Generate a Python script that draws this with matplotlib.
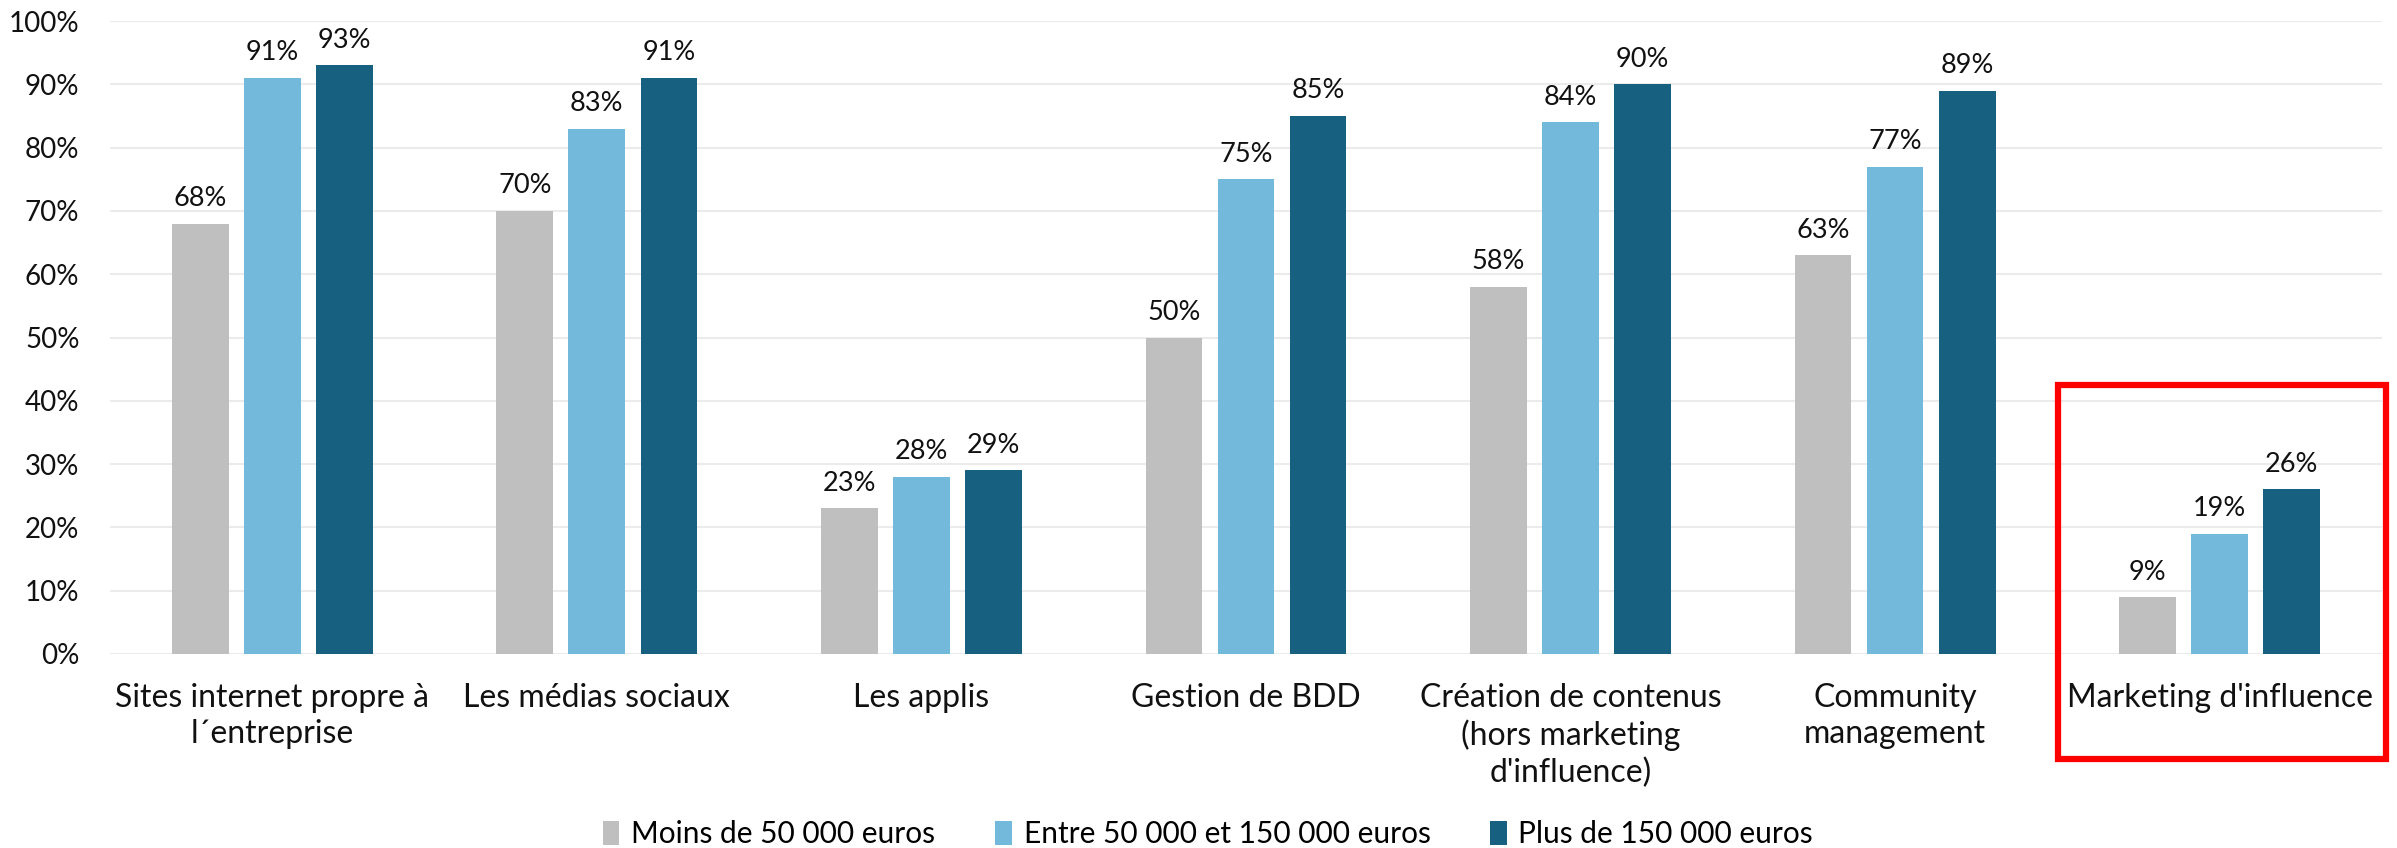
import numpy as np
import matplotlib
matplotlib.use('Agg')
import matplotlib.pyplot as plt
from matplotlib.patches import Rectangle

plt.rcParams['font.family'] = ['Lato', 'DejaVu Sans']

# data
categories = ['Sites internet propre à\nl´entreprise', 'Les médias sociaux', 'Les applis',
              'Gestion de BDD', 'Création de contenus\n(hors marketing\nd\'influence)',
              'Community\nmanagement', 'Marketing d\'influence']
moins_50k = [68, 70, 23, 50, 58, 63, 9]
entre_50_150k = [91, 83, 28, 75, 84, 77, 19]
plus_150k = [93, 91, 29, 85, 90, 89, 26]
series_names = ['Moins de 50 000 euros', 'Entre 50 000 et 150 000 euros', 'Plus de 150 000 euros']
colors = ['#BFBFBF', '#72B9DB', '#17607F']

fig = plt.figure(figsize=(23.97, 8.48), dpi=100)
ax = fig.add_axes([0.0459, 0.2288, 0.9478, 0.7464])

x = np.arange(len(categories))
width = 0.175
step = 0.222
for i, (vals, name, c) in enumerate(zip([moins_50k, entre_50_150k, plus_150k], series_names, colors)):
    pos = x + (i - 1) * step
    bars = ax.bar(pos, np.array(vals) / 100, width, color=c, label=name, zorder=2)
    for b, v in zip(bars, vals):
        ax.annotate(f'{v}%', (b.get_x() + b.get_width() / 2, b.get_height()),
                    xytext=(0, 9), textcoords='offset points', ha='center', va='bottom',
                    fontsize=19.5, color='#111111')

ax.set_xlim(-0.5, len(categories) - 0.5)
ax.set_ylim(0, 1)
ax.set_yticks(np.arange(0, 1.01, 0.1))
ax.set_yticklabels([f'{int(round(t * 100))}%' for t in np.arange(0, 1.01, 0.1)], fontsize=20)
ax.set_xticks(x)
ax.set_xticklabels(categories, fontsize=23, linespacing=1.25)
ax.tick_params(axis='both', length=0, colors='#111111')
ax.tick_params(axis='y', pad=22)
ax.tick_params(axis='x', pad=21)
ax.grid(axis='y', color='#EBEBEB', linewidth=1.5, zorder=0)
for s in ax.spines.values():
    s.set_visible(False)

leg = fig.legend(loc='center', bbox_to_anchor=(0.504, 0.0165), ncol=3, frameon=False,
                 fontsize=21.5, handlelength=0.55, handleheight=0.85, handletextpad=0.4,
                 columnspacing=2.0)

# red highlight box around last category
fig.add_artist(Rectangle((2058 / 2397, 1 - 759 / 848), (2386 - 2058) / 2397, (759 - 385) / 848,
                         transform=fig.transFigure, fill=False, edgecolor='#FF0000',
                         linewidth=4.5, clip_on=False))

fig.savefig('out.png', dpi=100)
